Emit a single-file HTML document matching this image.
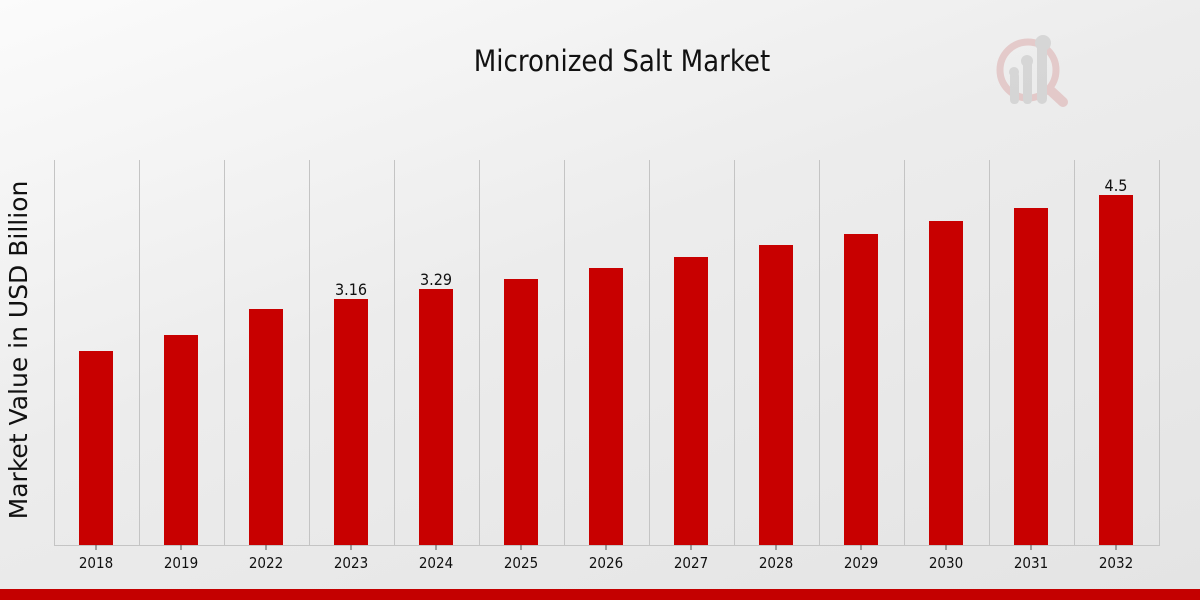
<!DOCTYPE html>
<html><head><style>
body{margin:0;width:1200px;height:600px;overflow:hidden;background:linear-gradient(160deg,#fbfbfb 0%,#ececec 45%,#e4e4e4 100%);}
</style></head><body>
<svg width="1200" height="600" xmlns="http://www.w3.org/2000/svg" style="position:absolute;left:0;top:0">
<text x="622" y="71" text-anchor="middle" font-family="DejaVu Sans Condensed, Liberation Sans Narrow, Liberation Sans, sans-serif" font-stretch="condensed" font-size="29" fill="#111">Micronized Salt Market</text>
<g opacity="0.45">
<circle cx="1028" cy="70" r="28" fill="none" stroke="#d9a0a0" stroke-width="7"/>
<line x1="1050" y1="90" x2="1063" y2="102" stroke="#d9a0a0" stroke-width="10" stroke-linecap="round"/>
<rect x="1010" y="72" width="9" height="32" rx="4" fill="#bbb"/>
<rect x="1023" y="58" width="9" height="46" rx="4" fill="#bbb"/>
<rect x="1037" y="40" width="10" height="64" rx="5" fill="#bbb"/>
<circle cx="1014" cy="72" r="5" fill="#bbb"/><circle cx="1027" cy="61" r="6" fill="#bbb"/><circle cx="1043" cy="43" r="8" fill="#bbb"/>
</g>
<text transform="translate(27,350) rotate(-90)" text-anchor="middle" font-family="DejaVu Sans, sans-serif" font-size="25" fill="#111">Market Value in USD Billion</text>
<g stroke="#c4c4c4" stroke-width="1">
<line x1="54.5" y1="160" x2="54.5" y2="545"/><line x1="139.5" y1="160" x2="139.5" y2="545"/><line x1="224.5" y1="160" x2="224.5" y2="545"/><line x1="309.5" y1="160" x2="309.5" y2="545"/><line x1="394.5" y1="160" x2="394.5" y2="545"/><line x1="479.5" y1="160" x2="479.5" y2="545"/><line x1="564.5" y1="160" x2="564.5" y2="545"/><line x1="649.5" y1="160" x2="649.5" y2="545"/><line x1="734.5" y1="160" x2="734.5" y2="545"/><line x1="819.5" y1="160" x2="819.5" y2="545"/><line x1="904.5" y1="160" x2="904.5" y2="545"/><line x1="989.5" y1="160" x2="989.5" y2="545"/><line x1="1074.5" y1="160" x2="1074.5" y2="545"/><line x1="1159.5" y1="160" x2="1159.5" y2="545"/>
<line x1="54" y1="545.5" x2="1160" y2="545.5"/>
</g>
<g fill="#c80000">
<rect x="79" y="351" width="34" height="194"/><rect x="164" y="335" width="34" height="210"/><rect x="249" y="309" width="34" height="236"/><rect x="334" y="299" width="34" height="246"/><rect x="419" y="289" width="34" height="256"/><rect x="504" y="279" width="34" height="266"/><rect x="589" y="268" width="34" height="277"/><rect x="674" y="257" width="34" height="288"/><rect x="759" y="245" width="34" height="300"/><rect x="844" y="234" width="34" height="311"/><rect x="929" y="221" width="34" height="324"/><rect x="1014" y="208" width="34" height="337"/><rect x="1099" y="195" width="34" height="350"/>
</g>
<g font-family="DejaVu Sans Condensed, Liberation Sans, sans-serif" font-stretch="condensed" font-size="16" fill="#111" text-anchor="middle">
<text x="351" y="295">3.16</text><text x="436" y="285">3.29</text><text x="1116" y="191">4.5</text>
</g>
<g stroke="#555" stroke-width="1">
<line x1="96" y1="545" x2="96" y2="550"/><line x1="181" y1="545" x2="181" y2="550"/><line x1="266" y1="545" x2="266" y2="550"/><line x1="351" y1="545" x2="351" y2="550"/><line x1="436" y1="545" x2="436" y2="550"/><line x1="521" y1="545" x2="521" y2="550"/><line x1="606" y1="545" x2="606" y2="550"/><line x1="691" y1="545" x2="691" y2="550"/><line x1="776" y1="545" x2="776" y2="550"/><line x1="861" y1="545" x2="861" y2="550"/><line x1="946" y1="545" x2="946" y2="550"/><line x1="1031" y1="545" x2="1031" y2="550"/><line x1="1116" y1="545" x2="1116" y2="550"/>
</g>
<g font-family="DejaVu Sans Condensed, Liberation Sans, sans-serif" font-stretch="condensed" font-size="15" fill="#111" text-anchor="middle">
<text x="96" y="568">2018</text><text x="181" y="568">2019</text><text x="266" y="568">2022</text><text x="351" y="568">2023</text><text x="436" y="568">2024</text><text x="521" y="568">2025</text><text x="606" y="568">2026</text><text x="691" y="568">2027</text><text x="776" y="568">2028</text><text x="861" y="568">2029</text><text x="946" y="568">2030</text><text x="1031" y="568">2031</text><text x="1116" y="568">2032</text>
</g>
<rect x="0" y="589" width="1200" height="11" fill="#c40000"/>
</svg>
</body></html>
